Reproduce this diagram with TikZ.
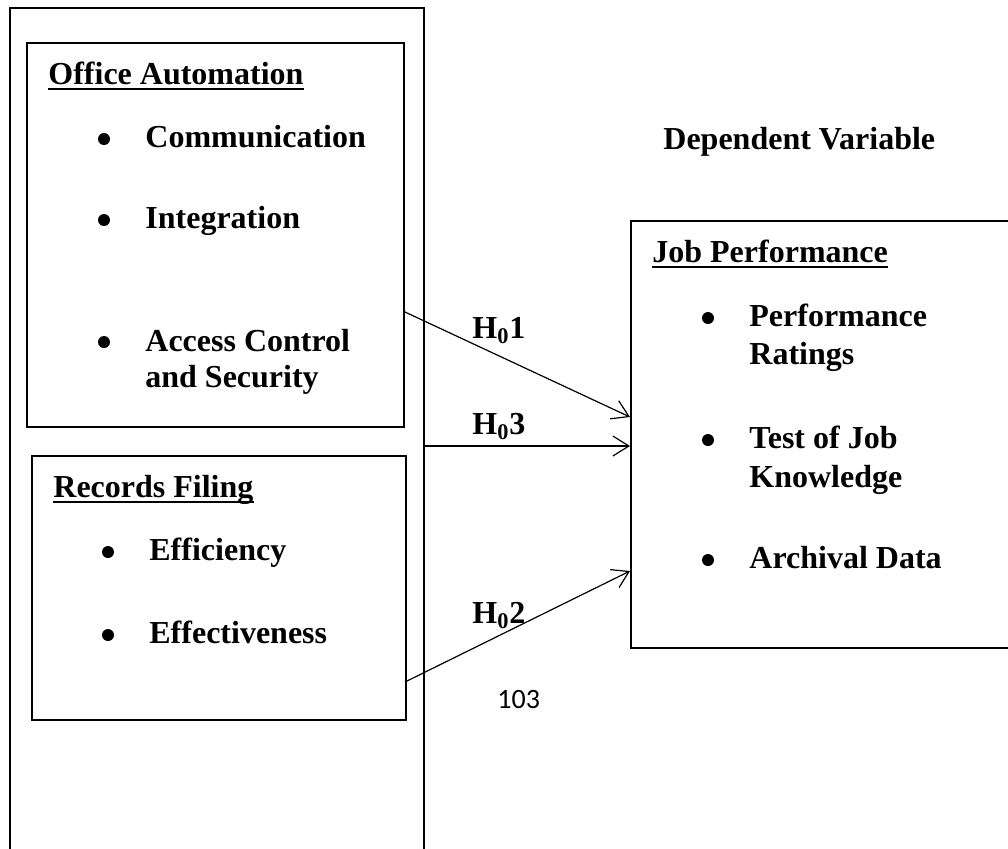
\documentclass[tikz,border=0pt]{standalone}
\usepackage{fontspec}
\setmainfont{Liberation Serif}
\newfontfamily\numfont{Carlito}
\usetikzlibrary{arrows.meta,calc,fit}
\begin{document}
\begin{tikzpicture}[x=0.5pt,y=-0.5pt,
  box/.style={draw,line width=1pt,inner sep=0pt},
  txt/.style={anchor=base west,inner sep=0pt,font=\fontsize{16}{19}\selectfont\bfseries},
  bul/.style={circle,fill,inner sep=0pt,minimum size=6pt},
  hyp/.style={anchor=base west,inner sep=0pt,font=\fontsize{16}{19}\selectfont\bfseries},
  link/.style={line width=0.6pt,-{Straight Barb[length=8pt,width=10pt,line width=0.6pt]}},
  uline/.style={line width=0.8pt}]
\useasboundingbox (0,0) rectangle (1008,848);
\clip (0,0) rectangle (1008,848);
% boxes
\node[box,fit={(10,8)(424,880)}] (outer) {};
\node[box,fit={(27,43)(404,427)}] (oa) {};
\node[box,fit={(32,456)(406,720)}] (rf) {};
\node[box,fit={(631,221)(1020,648)}] (jp) {};
% Office Automation
\node[txt] (oat) at (48,84) {Office Automation};
\draw[uline] ([yshift=-2.6pt]oat.base west) -- ([yshift=-2.6pt]oat.base east);
\node[bul] (b1) at (104,139) {};
\node[txt] (t1) at (145,147) {Communication};
\node[bul] (b2) at (104,220) {};
\node[txt] (t2) at (145,228) {Integration};
\node[bul] (b3) at (104,342) {};
\node[txt] (t3) at (145,351) {Access Control};
\node[txt] (t3b) at (145,387) {and Security};
% Records Filing
\node[txt] (rft) at (53,497) {Records Filing};
\draw[uline] ([yshift=-2.6pt]rft.base west) -- ([yshift=-2.6pt]rft.base east);
\node[bul] (b4) at (108,552) {};
\node[txt] (t4) at (149,560) {Efficiency};
\node[bul] (b5) at (108,635) {};
\node[txt] (t5) at (149,643) {Effectiveness};
% Dependent
\node[txt] (dv) at (663,149) {Dependent Variable};
% Job Performance
\node[txt] (jpt) at (652,262) {Job Performance};
\draw[uline] ([yshift=-2.6pt]jpt.base west) -- ([yshift=-2.6pt]jpt.base east);
\node[bul] (b6) at (708,318) {};
\node[txt] (t6) at (749,326) {Performance};
\node[txt] (t6b) at (749,364) {Ratings};
\node[bul] (b7) at (708,440) {};
\node[txt] (t7) at (749,448) {Test of Job};
\node[txt] (t7b) at (749,487) {Knowledge};
\node[bul] (b8) at (708,560) {};
\node[txt] (t8) at (749,568) {Archival Data};
% arrows
\coordinate (s1) at ($(oa.north east)+(0,270)$);
\coordinate (s3) at ($(outer.north east)+(0,439)$);
\coordinate (s2) at ($(rf.north east)+(-2,227)$);
\coordinate (e1) at ($(jp.north west)+(0,197)$);
\coordinate (e3) at ($(jp.north west)+(0,226)$);
\coordinate (e2) at ($(jp.north west)+(0,351)$);
\draw[link] (s1) -- (e1);
\draw[link] (s3) -- (e3);
\draw[link] (s2) -- (e2);
\node[hyp] (h1) at (472,338) {H\textsubscript{0}1};
\node[hyp] (h3) at (472,434) {H\textsubscript{0}3};
\node[hyp] (h2) at (472,623) {H\textsubscript{0}2};
\node[anchor=base west,inner sep=0pt,font=\numfont\fontsize{14}{17}\selectfont] (pg) at (497,708) {103};
\end{tikzpicture}
\end{document}
